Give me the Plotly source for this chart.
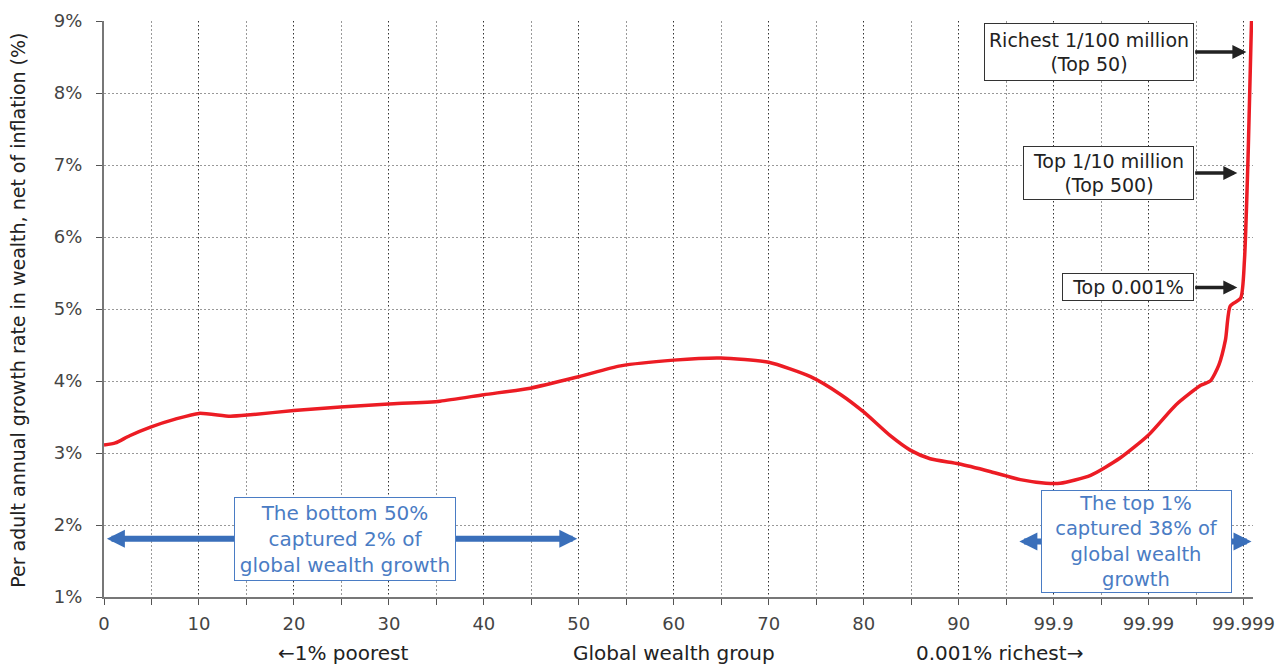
import plotly.graph_objects as go

# Position along the x axis (each 10 units = one labelled group), growth rate (%)
group_pos = [0, 1.2, 2.7, 4.9, 7.5, 10, 13.3, 15.4, 20, 24.9, 30, 35.4, 40, 44.9, 50,
             54.4, 60, 64.9, 70, 74.4, 77.6, 80, 82.8, 84.9, 87, 90, 93.4, 96.5, 99.2,
             100.7, 103.9, 107, 110, 112.9, 115.5, 116.5, 117.4, 118.1, 118.6, 119.7,
             120.1, 120.5, 120.9]
growth = [3.11, 3.14, 3.24, 3.36, 3.47, 3.55, 3.51, 3.53, 3.59, 3.64, 3.68, 3.72, 3.81,
          3.90, 4.06, 4.21, 4.29, 4.32, 4.26, 4.06, 3.81, 3.57, 3.24, 3.04, 2.92, 2.85,
          2.74, 2.63, 2.58, 2.58, 2.69, 2.93, 3.25, 3.67, 3.94, 4.00, 4.22, 4.57, 5.04,
          5.15, 5.68, 7.20, 9.30]

tick_pos = [0, 10, 20, 30, 40, 50, 60, 70, 80, 90, 100, 110, 120]
tick_text = ["0", "10", "20", "30", "40", "50", "60", "70", "80", "90", "99.9", "99.99", "99.999"]
y_ticks = [1, 2, 3, 4, 5, 6, 7, 8, 9]
y_text = ["1%", "2%", "3%", "4%", "5%", "6%", "7%", "8%", "9%"]

FONT = "DejaVu Sans"
GRAY = "#444444"
BLUE = "#4a7cc4"
BLUE_ARROW = "#3a6fba"

fig = go.Figure()

fig.add_trace(go.Scatter(
    x=group_pos, y=growth,
    mode="lines",
    line=dict(color="#ec1c24", width=3.5, shape="spline", smoothing=0.6),
    hoverinfo="skip",
    showlegend=False,
))

#   Double-headed blue arrows (drawn before the boxes)
fig.add_annotation(x=0.3, y=1.81, ax=50, ay=1.81, xref="x", yref="y", axref="x", ayref="y",
                   text="", showarrow=True, arrowhead=2, arrowside="end+start",
                   arrowsize=0.6, arrowwidth=6, arrowcolor=BLUE_ARROW)
fig.add_annotation(x=96.4, y=1.77, ax=121, ay=1.77, xref="x", yref="y", axref="x", ayref="y",
                   text="", showarrow=True, arrowhead=2, arrowside="end+start",
                   arrowsize=0.6, arrowwidth=6, arrowcolor=BLUE_ARROW)

#   Blue text boxes
fig.add_annotation(x=25.4, y=1.81, xref="x", yref="y", showarrow=False,
                   text="The bottom 50%<br>captured 2% of<br>global wealth growth",
                   font=dict(family=FONT, size=20, color=BLUE), width=214, height=76,
                   bgcolor="white", bordercolor=BLUE, borderwidth=1, borderpad=3)
fig.add_annotation(x=108.7, y=1.77, xref="x", yref="y", showarrow=False,
                   text="The top 1%<br>captured 38% of<br>global wealth<br>growth",
                   font=dict(family=FONT, size=19.5, color=BLUE), width=187,
                   bgcolor="white", bordercolor=BLUE, borderwidth=1, borderpad=1)

#   Black labelled arrows to the top groups
labels = [("Richest 1/100 million<br>(Top 50)", 8.57, 120.3, 202, 50),
          ("Top 1/10 million<br>(Top 500)", 6.89, 119.35, 163, 46),
          ("Top 0.001%", 5.30, 119.35, 124, 20)]
for txt, yv, xv, w, h in labels:
    fig.add_annotation(x=xv, y=yv, ax=114.75, ay=yv, xref="x", yref="y", axref="x", ayref="y",
                       text="", showarrow=True, arrowhead=2, arrowsize=0.8,
                       arrowwidth=3.5, arrowcolor="#222222")
    fig.add_annotation(x=114.75, y=yv, xref="x", yref="y", xanchor="right", showarrow=False,
                       text=txt, font=dict(family=FONT, size=19, color="#222222"),
                       width=w, height=h,
                       bgcolor="white", bordercolor="#333333", borderwidth=1, borderpad=3)

#   Lower axis captions
for txt, xv in [("←1% poorest", 25.2), ("Global wealth group", 60), ("0.001% richest→", 94.3)]:
    fig.add_annotation(x=xv, y=-0.097, xref="x", yref="paper", yanchor="middle",
                       showarrow=False, text=txt,
                       font=dict(family=FONT, size=20, color="#222222"))

#   Y axis title
fig.add_annotation(x=-0.0748, y=0.497, xref="paper", yref="paper", textangle=-90,
                   showarrow=False, xanchor="center", yanchor="middle",
                   text="Per adult annual growth rate in wealth, net of inflation (%)",
                   font=dict(family=FONT, size=19, color="#222222"))

fig.update_xaxes(
    range=[0, 121], tickvals=tick_pos, ticktext=tick_text,
    showgrid=True, gridcolor="#333333", griddash="1px,3px", gridwidth=1,
    minor=dict(dtick=5, tick0=0, ticks="outside", ticklen=6, tickcolor="#555555",
               showgrid=True, gridcolor="#999999", griddash="2px,2px", gridwidth=1),
    ticks="outside", ticklen=6, tickcolor="#555555",
    showline=True, linecolor="#777777", linewidth=2,
    tickfont=dict(family=FONT, size=18, color=GRAY), ticklabelstandoff=3,
    zeroline=False, fixedrange=True, automargin=False,
)
fig.update_yaxes(
    range=[1, 9], tickvals=y_ticks, ticktext=y_text,
    showgrid=True, gridcolor="#999999", griddash="2px,2px", gridwidth=1,
    ticks="outside", ticklen=6, tickcolor="#555555",
    showline=True, linecolor="#777777", linewidth=2,
    tickfont=dict(family=FONT, size=18, color=GRAY), ticklabelstandoff=10,
    zeroline=False, fixedrange=True, automargin=False,
)

# the page puts the figure 8px in from the window corner
fig.update_layout(
    width=1277, height=656,
    margin=dict(l=96, r=32, t=13, b=67),
    plot_bgcolor="white", paper_bgcolor="white",
    showlegend=False,
    font=dict(family=FONT),
)

fig.write_html("out.html")
